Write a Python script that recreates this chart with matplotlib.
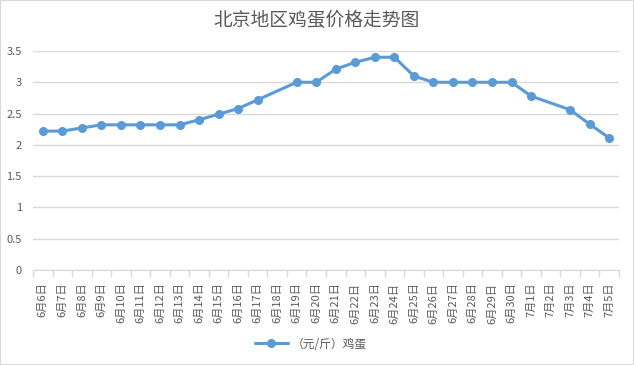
import numpy as np
import matplotlib
matplotlib.use("Agg")
import matplotlib.pyplot as plt
from matplotlib.patches import Rectangle

plt.rcParams['font.family'] = ['Noto Sans CJK SC', 'DejaVu Sans']

# data (yuan per jin); None = no reading that day
dates = ["6月6日", "6月7日", "6月8日", "6月9日", "6月10日", "6月11日", "6月12日",
         "6月13日", "6月14日", "6月15日", "6月16日", "6月17日", "6月18日", "6月19日",
         "6月20日", "6月21日", "6月22日", "6月23日", "6月24日", "6月25日", "6月26日",
         "6月27日", "6月28日", "6月29日", "6月30日", "7月1日", "7月2日", "7月3日",
         "7月4日", "7月5日"]
prices = [2.22, 2.22, 2.27, 2.32, 2.32, 2.32, 2.32, 2.32, 2.40, 2.49, 2.58, 2.72,
          None, 3.00, 3.00, 3.21, 3.32, 3.40, 3.40, 3.10, 3.00, 3.00, 3.00, 3.00,
          3.00, 2.78, None, 2.56, 2.33, 2.11]
y_ticks = [0, 0.5, 1, 1.5, 2, 2.5, 3, 3.5]
y_labels = ["0", "0.5", "1", "1.5", "2", "2.5", "3", "3.5"]
series_name = "（元/斤）鸡蛋"
title = "北京地区鸡蛋价格走势图"

text_col = "#595959"
grid_col = "#D9D9D9"
line_col = "#5B9BD5"

W, H = 634, 365
fig = plt.figure(figsize=(W / 100, H / 100), dpi=100)
ax = fig.add_axes([33 / W, 1 - 270 / H, (619 - 33) / W, (270 - 51) / H])

# Excel-style: gaps are bridged by the line
xs = [i for i, v in enumerate(prices) if v is not None]
ys = [v for v in prices if v is not None]
ax.plot(xs, ys, color=line_col, lw=2.2, marker='o', markersize=5.5,
        label=series_name, zorder=3, solid_capstyle='round')

ax.set_xlim(-0.5, len(dates) - 0.5)
ax.set_ylim(0, 3.5)
ax.set_yticks(y_ticks)
ax.set_yticklabels(y_labels)
ax.yaxis.grid(True, color=grid_col, lw=1)
ax.set_axisbelow(True)
ax.tick_params(axis='y', length=0, labelsize=8, labelcolor=text_col, pad=8)

ax.set_xticks(range(len(dates)))
ax.set_xticklabels(dates, rotation=90)
ax.tick_params(axis='x', length=0, labelsize=8, labelcolor=text_col, pad=9)
ax.set_xticks(np.arange(-0.5, len(dates)), minor=True)
ax.tick_params(axis='x', which='minor', length=5, color=grid_col, width=1)

for s in ['top', 'right', 'left']:
    ax.spines[s].set_visible(False)
ax.spines['bottom'].set_color(grid_col)

fig.text(0.5, 1 - 20 / H, title, ha='center', va='center', fontsize=13.5, color=text_col)

leg = fig.legend(loc='center', bbox_to_anchor=(0.49, 1 - 344 / H), frameon=False,
                 fontsize=8.5, handlelength=2.8, handletextpad=0.3)
for t in leg.get_texts():
    t.set_color(text_col)

fig.patches.append(Rectangle((0, 0), 1, 1, transform=fig.transFigure, fill=False,
                             edgecolor=grid_col, lw=1.5))

fig.savefig("out.png", dpi=100)
